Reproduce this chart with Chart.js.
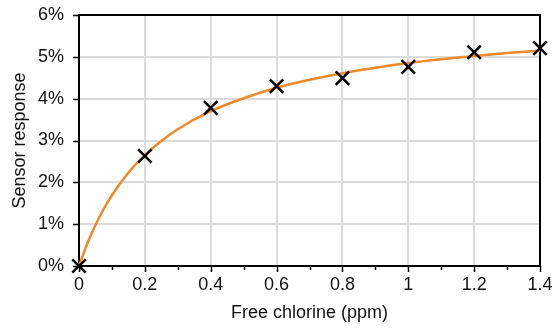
<!DOCTYPE html>
<html>
<head>
<meta charset="utf-8">
<script src="https://cdn.jsdelivr.net/npm/chart.js@4.4.1/dist/chart.umd.min.js"></script>
<style>
  html, body { margin: 0; padding: 0; background: #ffffff; }
  #wrap { width: 560px; height: 328px; }
</style>
</head>
<body>
<div id="wrap"><canvas id="c" width="560" height="328"></canvas></div>
<script>
// Measured sensor response (%) against free chlorine concentration (ppm)
const chlorinePpm = [0, 0.2, 0.4, 0.6, 0.8, 1.0, 1.2, 1.4];
const responsePct = [0, 2.63, 3.78, 4.30, 4.49, 4.76, 5.11, 5.21];

// Saturating fit curve through the measurements
const fitPpm = [0, 0.025, 0.05, 0.075, 0.1, 0.15, 0.2, 0.25, 0.3, 0.4, 0.5, 0.6, 0.7, 0.8, 0.9, 1.0, 1.1, 1.2, 1.3, 1.4];
const fitPct = [0, 0.53, 0.98, 1.36, 1.69, 2.23, 2.65, 2.99, 3.27, 3.70, 4.01, 4.26, 4.45, 4.61, 4.74, 4.85, 4.94, 5.02, 5.09, 5.15];

// Axis ranges and steps
const xRange = [0, 1.4];
const xMajorStep = 0.2;
const xMinorStep = 0.1;
const yRange = [0, 6];
const yStep = 1;

const FONT = '"Liberation Sans", Arial, Helvetica, sans-serif';
Chart.defaults.font.family = FONT;
Chart.defaults.font.size = 18;
Chart.defaults.color = '#111111';

// Closes the frame on top/right and draws outward tick marks (major + minor on x)
const frameAndTicks = {
  id: 'frameAndTicks',
  beforeDatasetsDraw(chart) {
    const { ctx, chartArea: a, scales: { x, y } } = chart;
    ctx.save();
    ctx.strokeStyle = '#000000';
    ctx.lineWidth = 2;
    ctx.beginPath();
    ctx.moveTo(a.left, a.top);
    ctx.lineTo(a.right, a.top);
    ctx.lineTo(a.right, a.bottom);
    ctx.stroke();

    ctx.lineWidth = 1.5;
    ctx.beginPath();
    const nMinor = Math.round((xRange[1] - xRange[0]) / xMinorStep);
    for (let k = 0; k <= nMinor; k++) {
      const v = xRange[0] + k * xMinorStep;
      const px = Math.round(x.getPixelForValue(v)) + 0.5;
      const len = (k % 2 === 0) ? 6 : 4;
      ctx.moveTo(px, a.bottom);
      ctx.lineTo(px, a.bottom + len);
    }
    const nY = Math.round((yRange[1] - yRange[0]) / yStep);
    for (let k = 0; k <= nY; k++) {
      const py = Math.round(y.getPixelForValue(yRange[0] + k * yStep)) + 0.5;
      ctx.moveTo(a.left, py);
      ctx.lineTo(a.left - 6, py);
    }
    ctx.stroke();
    ctx.restore();
  }
};

new Chart(document.getElementById('c'), {
  type: 'scatter',
  data: {
    datasets: [
      {
        label: 'Measured',
        data: chlorinePpm.map((v, i) => ({ x: v, y: responsePct[i] })),
        showLine: false,
        pointStyle: 'crossRot',
        pointRadius: 9.5,
        pointHoverRadius: 9.5,
        borderColor: '#000000',
        backgroundColor: '#000000',
        pointBorderWidth: 2.5,
        clip: false
      },
      {
        label: 'Fit',
        data: fitPpm.map((v, i) => ({ x: v, y: fitPct[i] })),
        showLine: true,
        borderColor: '#EF8A2C',
        borderWidth: 2.5,
        pointRadius: 0,
        pointHoverRadius: 0,
        cubicInterpolationMode: 'monotone',
        fill: false,
        clip: false
      }
    ]
  },
  options: {
    responsive: false,
    animation: false,
    devicePixelRatio: 1,
    layout: { padding: { top: 15, right: 20, left: 0, bottom: 0 } },
    plugins: {
      legend: { display: false },
      tooltip: { enabled: false }
    },
    scales: {
      x: {
        type: 'linear',
        min: xRange[0],
        max: xRange[1],
        afterFit(scale) {
          scale.height = 62;
          scale.paddingLeft = 0;
          scale.paddingRight = 0;
        },
        ticks: {
          stepSize: xMajorStep,
          padding: 8,
          maxRotation: 0,
          autoSkip: false,
          color: '#111111',
          callback: (v) => String(Number(v.toFixed(1)))
        },
        grid: {
          color: '#dcdcdc',
          lineWidth: 2,
          drawTicks: false
        },
        border: { color: '#000000', width: 2 },
        title: {
          display: true,
          text: 'Free chlorine (ppm)',
          color: '#111111',
          padding: { top: 0, bottom: 4 }
        }
      },
      y: {
        type: 'linear',
        min: yRange[0],
        max: yRange[1],
        afterFit(scale) {
          scale.width = 79;
          scale.paddingTop = 0;
          scale.paddingBottom = 0;
        },
        ticks: {
          stepSize: yStep,
          padding: 15,
          color: '#111111',
          callback: (v) => v + '%'
        },
        grid: {
          color: '#dcdcdc',
          lineWidth: 2,
          drawTicks: false
        },
        border: { color: '#000000', width: 2 },
        title: {
          display: true,
          text: 'Sensor response',
          color: '#111111',
          padding: { top: 9, bottom: 0 }
        }
      }
    }
  },
  plugins: [frameAndTicks]
});
</script>
</body>
</html>
